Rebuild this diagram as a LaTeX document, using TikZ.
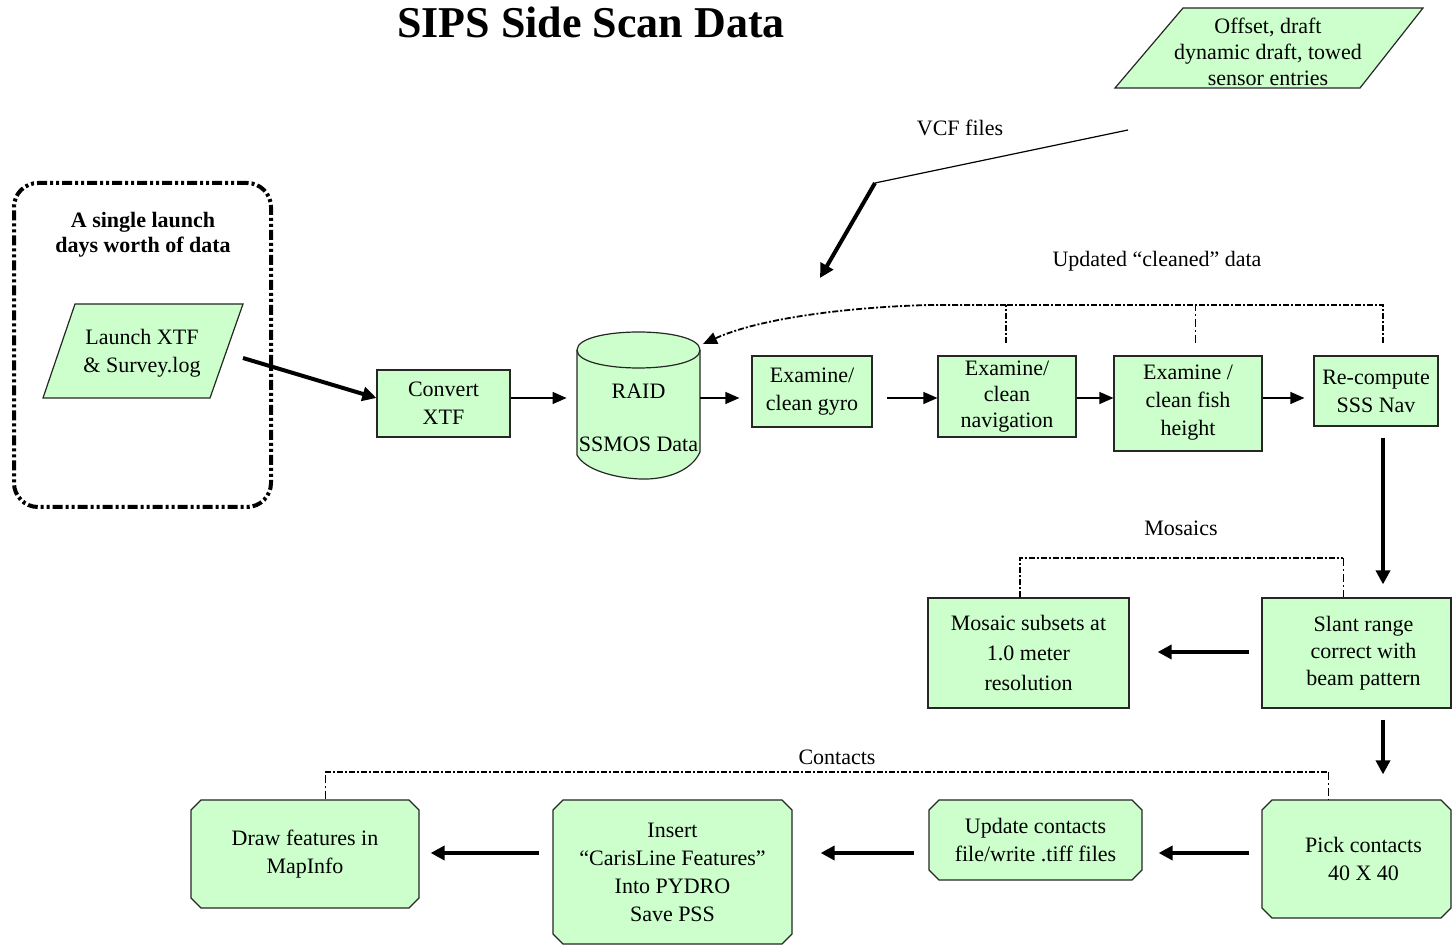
\documentclass[tikz,border=0pt]{standalone}
\usepackage{fontspec}
\setmainfont{Liberation Serif}
\usetikzlibrary{arrows.meta,shapes.misc,shapes.geometric}
\definecolor{boxgreen}{HTML}{CCFFCC}
\begin{document}
\begin{tikzpicture}[x=0.5pt,y=-0.5pt,
  txt/.style={font=\fontsize{11}{14}\selectfont, align=center, inner sep=0pt},
  box/.style={draw=black!85, line width=0.6pt, fill=boxgreen, align=center, inner sep=1pt, font=\fontsize{11}{14}\selectfont},
  cbox/.style={box, chamfered rectangle, chamfered rectangle xsep=2.5pt, chamfered rectangle ysep=2.5pt, inner sep=0pt},
  pshape/.style={draw=black!85, line width=0.6pt, fill=boxgreen},
  arr/.style={-{Triangle[length=7pt,width=6pt]}, line width=0.6pt},
  tarr/.style={-{Triangle[length=7pt,width=7pt]}, line width=2pt},
  fb/.style={line width=0.9pt, dash pattern=on 3pt off 1pt on 1pt off 1pt},
  fbthin/.style={line width=0.4pt, dash pattern=on 4pt off 1.5pt on 1pt off 1.5pt},
  grp/.style={draw, line width=2pt, rounded corners=12pt, dash pattern=on 5pt off 1.5pt on 1.5pt off 1.5pt on 1.5pt off 1.5pt}
]
\useasboundingbox (0,0) rectangle (1452,945);

% title
\node[font=\bfseries\fontsize{22}{26}\selectfont, inner sep=0pt] (title) at (591,22) {SIPS Side Scan Data};

% offset parallelogram
\draw[pshape] (1183,8) -- (1423,8) -- (1360,88) -- (1115,88) -- cycle;
\node[txt, font=\fontsize{11}{13}\selectfont] (offset) at (1268,52) {Offset, draft\\dynamic draft, towed\\sensor entries};

% VCF
\node[txt] (vcf) at (960,128) {VCF files};
\coordinate (vcfstart) at (1128,130);
\coordinate (vcfbend) at (875,183);
\coordinate (vcfend) at (820,278);
\draw[line width=0.6pt] (vcfstart) -- (vcfbend);
\draw[tarr] (vcfbend) -- (vcfend);

% launch group
\node[grp, minimum width=128.5pt, minimum height=162pt] (group) at (142.5,345) {};
\node[txt, font=\bfseries\fontsize{11}{12.5}\selectfont] (grouptitle) at (143,235) {A single launch\\days worth of data};
\draw[pshape] (75,304) -- (243,304) -- (210,398) -- (43,398) -- cycle;
\node[txt] (launch) at (142,353) {Launch XTF\\\& Survey.log};
\coordinate (launchout) at (243,358);

% row of boxes
\coordinate (row) at (0,398);
\node[box, minimum width=66.5pt, minimum height=33.5pt] (convert) at (443.5,403.5) {Convert\\XTF};

% RAID cylinder
\draw[pshape] (577,350) -- (577,455) .. controls (585,470) and (615,478) .. (640,479) .. controls (668,480) and (692,470) .. (700,452) -- (700,350) .. controls (700,326) and (577,326) .. (577,350) -- cycle;
\draw[line width=0.6pt, draw=black!85] (577,350) .. controls (577,374) and (700,374) .. (700,350);
\node[txt, font=\fontsize{11}{26.5}\selectfont, minimum width=61.5pt] (raid) at (638.5,417.5) {RAID\\SSMOS Data};

\node[box, minimum width=60pt, minimum height=35.5pt] (gyro) at (812,391.5) {Examine/\\clean gyro};
\node[box, minimum width=69pt, minimum height=40.5pt, font=\fontsize{11}{13}\selectfont] (nav) at (1007,396.5) {Examine/\\clean\\navigation};
\node[box, minimum width=74pt, minimum height=47.5pt, text depth=3pt] (fish) at (1188,403.5) {Examine /\\clean fish\\height};
\node[box, minimum width=62pt, minimum height=35pt] (recomp) at (1376,391) {Re-compute\\SSS Nav};

\draw[tarr] (launchout) -- (convert.west |- row);
\draw[arr, shorten >=5pt] (convert.east |- row) -- (raid.west |- row);
\draw[arr, shorten >=6pt] (raid.east |- row) -- (gyro.west |- row);
\draw[arr, shorten <=7pt] (gyro.east |- row) -- (nav.west |- row);
\draw[arr] (nav.east |- row) -- (fish.west |- row);
\draw[arr, shorten >=4.5pt] (fish.east |- row) -- (recomp.west |- row);

% feedback "Updated cleaned data"
\node[txt] (updlabel) at (1157,261) {Updated “cleaned” data};
\coordinate (fbtop) at (0,305);
\coordinate (fbbot) at (0,343);
\coordinate (fbA) at (1006,0);
\coordinate (fbB) at (1195,0);
\coordinate (fbC) at (1383,0);
\coordinate (fbend) at (703,344);
\draw[fb] (fbC |- fbbot) -- (fbC |- fbtop) -- (fbA |- fbtop);
\draw[fb] (fbA |- fbbot) -- (fbA |- fbtop);
\draw[fbthin] (fbB |- fbbot) -- (fbB |- fbtop);
\draw[fb, -{Triangle[length=7pt,width=6pt]}] (fbA |- fbtop) -- (930,305) .. controls (850,307) and (760,318) .. (fbend);

% second row
\node[box, minimum width=100.5pt, minimum height=55pt, font=\fontsize{11}{15}\selectfont] (mosaic) at (1028.5,653) {Mosaic subsets at\\1.0 meter\\resolution};
\node[box, minimum width=94.5pt, minimum height=55pt, font=\fontsize{11}{13.5}\selectfont] (slant) at (1356.5,653) {\hspace*{7pt}Slant range\\\hspace*{7pt}correct with\\\hspace*{7pt}beam pattern};

\coordinate (colR) at (1383,0);
\draw[tarr, shorten <=5.5pt, shorten >=6.5pt] (recomp.south -| colR) -- (slant.north -| colR);
\coordinate (row2) at (0,652);
\draw[tarr, shorten <=6pt, shorten >=14pt] (slant.west |- row2) -- (mosaic.east |- row2);

\node[txt] (moslabel) at (1181,528) {Mosaics};
\coordinate (mtop) at (0,558);
\coordinate (mA) at (1020,0);
\coordinate (mB) at (1343,0);
\draw[fb] (mA |- mosaic.north) -- (mA |- mtop) -- (mB |- mtop);
\draw[fbthin] (mB |- mtop) -- (mB |- slant.north);

% third row
\node[cbox, minimum width=94.5pt, minimum height=59pt] (pick) at (1356.5,859) {\hspace*{7pt}Pick contacts\\\hspace*{7pt}40 X 40};
\node[cbox, minimum width=106.5pt, minimum height=40pt] (update) at (1035.5,840) {Update contacts\\file/write .tiff files};
\node[cbox, minimum width=119.5pt, minimum height=72pt] (insert) at (672.5,872) {Insert\\“CarisLine Features”\\Into PYDRO\\Save PSS};
\node[cbox, minimum width=114pt, minimum height=54pt] (drawf) at (305,854) {Draw features in\\MapInfo};

\draw[tarr, shorten <=5.5pt, shorten >=12.5pt] (slant.south -| colR) -- (pick.north -| colR);
\coordinate (row3) at (0,853);
\draw[tarr, shorten <=6pt, shorten >=8pt] (pick.west |- row3) -- (update.east |- row3);
\draw[tarr, shorten <=7pt, shorten >=14pt] (update.west |- row3) -- (insert.east |- row3);
\draw[tarr, shorten <=6.5pt, shorten >=5.5pt] (insert.west |- row3) -- (drawf.east |- row3);

\node[txt] (conlabel) at (837,757) {Contacts};
\coordinate (ctop) at (0,772);
\coordinate (cA) at (325,0);
\coordinate (cB) at (1328,0);
\draw[fbthin] (cA |- drawf.north) -- (cA |- ctop);
\draw[fb] (cA |- ctop) -- (cB |- ctop);
\draw[fbthin] (cB |- ctop) -- (cB |- pick.north);
\end{tikzpicture}
\end{document}
